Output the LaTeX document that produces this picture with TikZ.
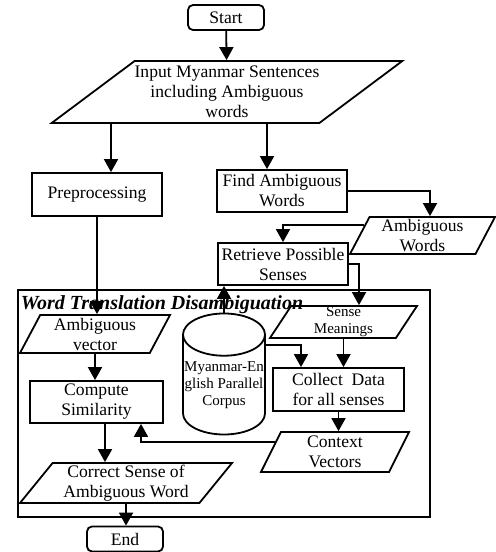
\documentclass[tikz,border=0pt]{standalone}
\usepackage{fontspec}
\setmainfont{Liberation Serif}
\usetikzlibrary{positioning}
\usetikzlibrary{calc}
\usetikzlibrary{shapes.geometric}
\usetikzlibrary{arrows.meta}
\tikzset{
    % Solid, fairly heavy heads as in the original chart
    >={Triangle[width=7pt,length=6.5pt]},
%
    % Start and end blocks
    terminal/.style={draw, rectangle, rounded corners=2.5pt,
        minimum width=38pt, minimum height=12.5pt, inner sep=0pt},
%
    % An ordinary processing step
    process/.style={draw, rectangle, align=center, inner sep=0pt},
%
    % Data in or out, a parallelogram leaning to the right
    data/.style 2 args={draw, trapezium, trapezium left angle=#1,
        trapezium right angle=#2, trapezium stretches body,
        align=center, inner sep=0pt},
%
    % The parallel corpus
    store/.style={draw, cylinder, shape border rotate=90, aspect=0.53,
        minimum width=41pt, minimum height=60.5pt, align=center,
        inner sep=0pt},
%
    % Smaller print used in a few places
    small text/.style={font=\fontsize{7.5}{8.5}\selectfont},
%
    % The frame round the disambiguation stage
    stage frame/.style={draw, rectangle, inner sep=0pt}}

\begin{document}
\begin{tikzpicture}[x=0.5pt, y=-0.5pt, line width=0.9pt,
    font=\fontsize{8.8}{10}\selectfont]

\useasboundingbox (0,0) rectangle (495,552);

\node [stage frame, minimum width=206pt, minimum height=113.5pt]
    (wtd) at (224,403.5) {};

\node [terminal] (start) at (226,17.5) {Start};
\node [data={32}{148}, minimum width=160pt, minimum height=31pt]
    (input) at (227,92)
    {Input Myanmar Sentences\\including Ambiguous\\words};

\node [process, minimum width=65pt, minimum height=21.5pt]
    (prep) at (97,194.5) {Preprocessing};
\node [process, minimum width=65pt, minimum height=21pt]
    (find) at (282,191) {Find Ambiguous\\Words};
\node [data={59}{121}, minimum width=72.5pt, minimum height=18.5pt]
    (ambw) at (422.5,235.5) {Ambiguous\\Words};
\node [process, minimum width=65pt, minimum height=21pt]
    (retr) at (283,264) {Retrieve Possible\\Senses};

\node [data={58}{122}, minimum width=75pt, minimum height=19pt]
    (ambvec) at (95,334) {Ambiguous\\vector};
\node [process, minimum width=66.5pt, minimum height=21pt]
    (comp) at (96.5,402) {Compute\\Similarity};
\node [data={48}{132}, minimum width=106pt, minimum height=20pt]
    (corr) at (126,483) {Correct Sense of\\Ambiguous Word};
\node [terminal] (end) at (125,539) {End};

\node [store, small text] (corpus) at (224,385)
    {Myanmar-En\\glish Parallel\\Corpus};
\node [data={55}{125}, small text, minimum width=73.5pt, minimum height=16pt]
    (sense) at (343.5,322) {Sense\\Meanings};
\node [process, minimum width=65.5pt, minimum height=21.5pt]
    (coll) at (338.5,389.5) {Collect~ Data\\for all senses};
\node [data={58}{122}, minimum width=74pt, minimum height=20pt]
    (ctx) at (335,452) {Context\\Vectors};

% main line down the left
\draw[->] (start) -- (input);
\draw[->] ([xshift=7pt]prep.north |- input.south) -- ([xshift=7pt]prep.north);
\draw[->] (prep.south) -- (prep.south |- ambvec.north);
\draw[->] (ambvec.south) -- (ambvec.south |- comp.north);
\draw[->] ([xshift=4.25pt]comp.south) -- ([xshift=4.25pt]comp.south |- corr.north);
\draw[->] (corr.south) -- (corr.south |- end.north);

% the ambiguous word branch
\draw[->] ([xshift=-7.5pt]find.north |- input.south) -- ([xshift=-7.5pt]find.north);
\draw[->] (find.east) -| ([xshift=3.75pt]ambw.north);
\draw[->] ($(ambw.top left corner)!0.22!(ambw.bottom left corner)$) -| (retr.north);
\draw[->] (retr.east) -| ([xshift=7.75pt]sense.north);
\draw[->] (corpus.north) -- (corpus.north |- retr.south);
\draw[->] ([yshift=20pt]corpus.east) -| ([xshift=-18.75pt]coll.north);
\draw[->] (sense.south) -- (sense.south |- coll.north);
\draw[->] (coll.south) -- (coll.south |- ctx.north);
\draw[->] ($(ctx.top left corner)!0.27!(ctx.bottom left corner)$)
    -| ([xshift=22.25pt]comp.south);

\node [anchor=base west, inner sep=0pt,
    font=\fontsize{10}{12}\bfseries\itshape\selectfont]
    (title) at (20,309) {Word Translation Disambiguation};

\end{tikzpicture}
\end{document}
